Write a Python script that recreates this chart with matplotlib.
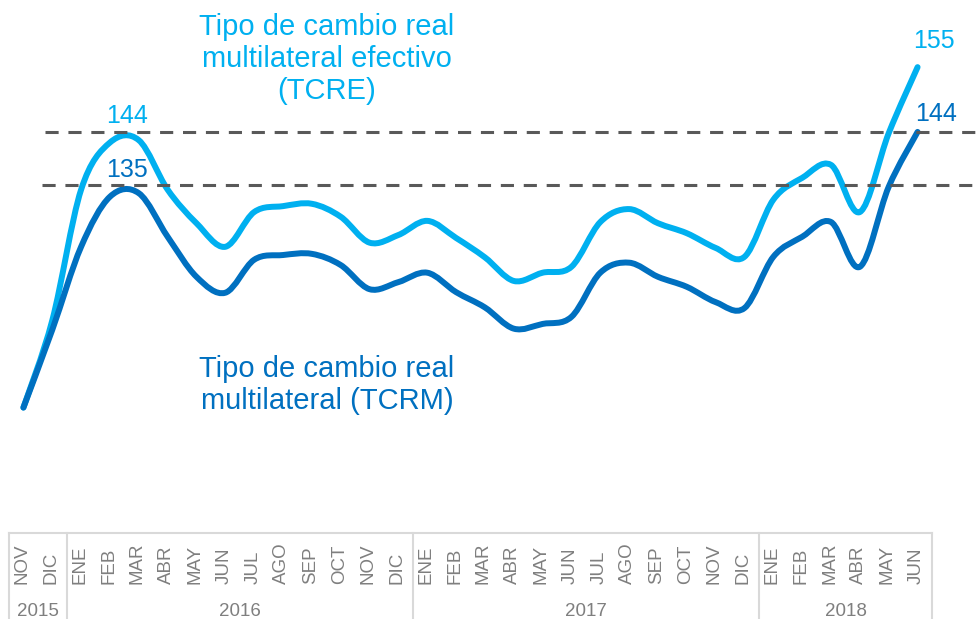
import numpy as np
import matplotlib
matplotlib.use("Agg")
import matplotlib.pyplot as plt
from matplotlib.path import Path
import matplotlib.patches as patches

plt.rcParams['font.family'] = ['Liberation Sans', 'DejaVu Sans']

# data
months = ['NOV', 'DIC',
          'ENE', 'FEB', 'MAR', 'ABR', 'MAY', 'JUN', 'JUL', 'AGO', 'SEP', 'OCT', 'NOV', 'DIC',
          'ENE', 'FEB', 'MAR', 'ABR', 'MAY', 'JUN', 'JUL', 'AGO', 'SEP', 'OCT', 'NOV', 'DIC',
          'ENE', 'FEB', 'MAR', 'ABR', 'MAY', 'JUN']
years = ['2015', '2016', '2017', '2018']
months_per_year = [2, 12, 12, 6]

tcre = [97.2, 112.0, 134.2, 142.2, 142.6, 134.2, 128.5, 124.5, 130.4, 131.4, 131.8,
        129.6, 125.2, 126.5, 128.9, 126.0, 122.7, 118.7, 120.1, 121.1, 128.7, 130.9,
        128.5, 126.8, 124.3, 122.8, 132.5, 136.2, 138.4, 130.4, 143.8, 155.0]
tcrm = [97.2, 110.4, 124.5, 133.0, 133.6, 126.2, 119.4, 116.7, 122.3, 123.1, 123.3,
        121.4, 117.3, 118.5, 120.1, 116.8, 114.2, 110.6, 111.4, 112.6, 120.1, 121.8,
        119.4, 117.7, 115.1, 114.1, 122.8, 126.2, 128.7, 121.1, 134.7, 144.0]

ref_levels = [144, 135]

light = '#00B0F0'
dark = '#0070C0'
grey_txt = '#7F7F7F'
border = '#D9D9D9'

W, H = 978, 619
cell = 923 / 32.0   # px per month
left_px = 9

fig = plt.figure(figsize=(W / 100, H / 100), dpi=100)

# main axes, same x grid as the table below
ax = fig.add_axes([left_px / W, 0, (W - left_px) / W, 1])
ax.set_xlim(-0.5, -0.5 + (W - left_px) / cell)
ax.set_ylim(61.3, 166.4)
ax.axis('off')


def smooth_path(x, y):
    # excel-like smoothed line: cubic bezier, catmull-rom control points
    pts = np.column_stack([x, y]).astype(float)
    n = len(pts)
    verts = [pts[0]]
    codes = [Path.MOVETO]
    for i in range(n - 1):
        p0 = pts[max(i - 1, 0)]
        p1 = pts[i]
        p2 = pts[i + 1]
        p3 = pts[min(i + 2, n - 1)]
        c1 = p1 + (p2 - p0) / 6.0
        c2 = p2 - (p3 - p1) / 6.0
        verts += [c1, c2, p2]
        codes += [Path.CURVE4] * 3
    return Path(verts, codes)


x = np.arange(len(months))
for vals, col in [(tcre, light), (tcrm, dark)]:
    pp = patches.PathPatch(smooth_path(x, vals), facecolor='none', edgecolor=col,
                           lw=4.3, capstyle='round', joinstyle='round', zorder=3)
    ax.add_patch(pp)

# dashed reference lines
xr = ax.get_xlim()[1]
for lvl, x0 in zip(ref_levels, [0.75, 0.64]):
    ax.plot([x0, xr], [lvl, lvl], color='#595959', lw=2.2, dashes=(4.3, 3.2),
            dash_capstyle='butt', zorder=4)

# value labels
ax.annotate('144', xy=(3.6, max(tcre[:6])), xytext=(0, 9), textcoords='offset points',
            ha='center', va='bottom', color=light, fontsize=18)
ax.annotate('135', xy=(3.6, max(tcrm[:6])), xytext=(0, 8), textcoords='offset points',
            ha='center', va='bottom', color=dark, fontsize=18)
ax.annotate('%d' % round(tcre[-1]), xy=(x[-1], tcre[-1]), xytext=(12, 10),
            textcoords='offset points', ha='center', va='bottom', color=light, fontsize=18)
ax.annotate('%d' % round(tcrm[-1]), xy=(x[-1], tcrm[-1]), xytext=(13, 4),
            textcoords='offset points', ha='center', va='bottom', color=dark, fontsize=18)

# series names
fig.text(327 / W, 1 - 59 / H, 'Tipo de cambio real\nmultilateral efectivo\n(TCRE)',
         ha='center', va='center', color=light, fontsize=21, linespacing=1.18)
fig.text(327 / W, 1 - 385 / H, 'Tipo de cambio real\nmultilateral (TCRM)',
         ha='center', va='center', color=dark, fontsize=21, linespacing=1.18)

# category table under the chart
tab_top = 533
axt = fig.add_axes([left_px / W, 0, 923 / W, (H - tab_top) / H])
axt.set_xlim(-0.5, 31.5)
axt.set_ylim(0, 1)
axt.axis('off')
axt.plot([-0.5, 31.5], [1, 1], color=border, lw=1.5, clip_on=False)

for i, m in enumerate(months):
    axt.text(i - 0.05, (H - 584) / (H - tab_top), m, rotation=90, ha='center', va='bottom',
             color=grey_txt, fontsize=13.5)

edges = np.concatenate([[0], np.cumsum(months_per_year)]) - 0.5
for e in edges:
    axt.plot([e, e], [0, 1], color=border, lw=1.5, clip_on=False)
for yr, a, b in zip(years, edges[:-1], edges[1:]):
    axt.text((a + b) / 2, (H - 611) / (H - tab_top), yr, ha='center', va='center',
             color=grey_txt, fontsize=13.5)

plt.savefig('out.png', dpi=100)
